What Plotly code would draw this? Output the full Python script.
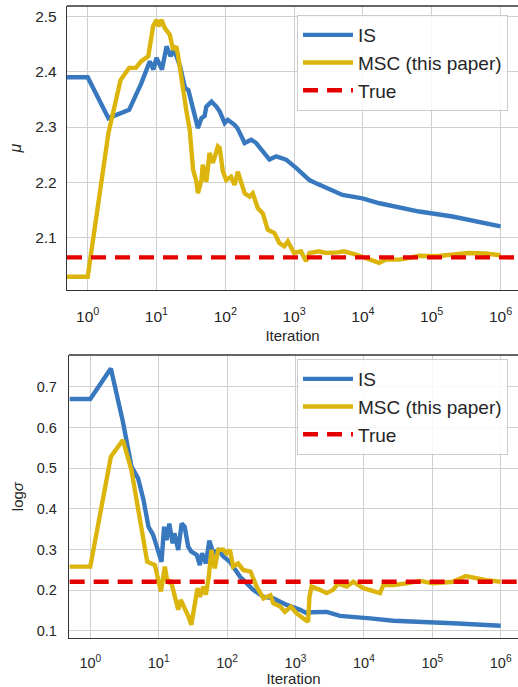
import plotly.graph_objects as go

# ---------------- data ----------------
mu_is_x = [0.5, 1, 2, 4, 6, 8, 9, 10, 12, 14, 16, 18, 22, 26, 29, 34, 40, 45, 50, 53, 63, 74,
           83, 98, 109, 136, 150, 191, 238, 281, 333, 438, 550, 765, 1067, 1670, 2090, 3640,
           5040, 7050, 9840, 17400, 37500, 65700, 200000, 610000, 1000000]
mu_is_y = [2.39, 2.39, 2.316, 2.331, 2.379, 2.419, 2.404, 2.425, 2.404, 2.446, 2.428, 2.44,
           2.41, 2.37, 2.367, 2.331, 2.298, 2.316, 2.32, 2.337, 2.346, 2.337, 2.328, 2.307,
           2.313, 2.304, 2.298, 2.271, 2.277, 2.271, 2.259, 2.241, 2.247, 2.241, 2.226, 2.204,
           2.198, 2.186, 2.177, 2.174, 2.171, 2.162, 2.153, 2.147, 2.138, 2.126, 2.12]

mu_msc_x = [0.5, 1, 2, 3, 4, 5, 6, 7.6, 8.9, 10, 10.7, 11.8, 13.2, 15.6, 17.4, 19.4, 20.5, 23,
            27, 30.4, 34, 38, 40, 45, 47, 53, 59, 66, 78, 83, 92, 103, 121, 136, 152, 191, 225,
            251, 297, 350, 414, 517, 610, 720, 810, 1000, 1260, 1490, 1670, 2300, 2900, 4300,
            5300, 7900, 11000, 13800, 17200, 21700, 33700, 47500, 65700, 116000, 200000,
            340000, 600000, 1000000]
mu_msc_y = [2.029, 2.029, 2.289, 2.385, 2.407, 2.407, 2.419, 2.428, 2.482, 2.494, 2.482, 2.494,
            2.479, 2.467, 2.44, 2.446, 2.431, 2.385, 2.331, 2.295, 2.223, 2.201, 2.18, 2.204,
            2.232, 2.201, 2.253, 2.235, 2.265, 2.262, 2.22, 2.204, 2.21, 2.195, 2.219, 2.18,
            2.174, 2.18, 2.153, 2.144, 2.114, 2.108, 2.09, 2.084, 2.093, 2.072, 2.075, 2.057,
            2.072, 2.075, 2.072, 2.073, 2.075, 2.069, 2.063, 2.057, 2.054, 2.060, 2.060, 2.063,
            2.067, 2.066, 2.069, 2.072, 2.071, 2.068]

mu_true = 2.064

ls_is_x = [0.5, 1, 2, 3, 4, 5, 6, 7.1, 8.3, 9.8, 11, 12, 13, 14.3, 16, 17, 19.3, 21.7, 24, 27,
           30, 36, 40, 43, 49, 55, 63, 74, 88, 110, 155, 241, 338, 476, 745, 1170, 1480, 1700,
           2860, 4480, 7000, 12300, 26800, 66000, 200000, 1000000]
ls_is_y = [0.670, 0.670, 0.745, 0.614, 0.504, 0.475, 0.422, 0.356, 0.336, 0.291, 0.270, 0.356,
           0.323, 0.364, 0.315, 0.34, 0.299, 0.364, 0.356, 0.307, 0.295, 0.287, 0.262, 0.291,
           0.266, 0.322, 0.291, 0.299, 0.283, 0.270, 0.233, 0.201, 0.184, 0.180, 0.164, 0.152,
           0.143, 0.146, 0.147, 0.137, 0.135, 0.131, 0.125, 0.123, 0.119, 0.113]

ls_msc_x = [0.5, 1, 2, 3, 4, 5, 6.8, 8.8, 9.9, 10.8, 12.3, 13.5, 15, 17.3, 19.3, 21, 24, 27.4,
            30, 34, 37, 40, 45, 49, 54, 59, 66, 74, 88, 98, 110, 123, 145, 172, 220, 270, 340,
            430, 475, 600, 700, 860, 1040, 1300, 1530, 1600, 1720, 2270, 2850, 3550, 4200,
            5600, 7000, 9800, 13800, 17200, 19300, 26700, 42000, 66000, 103000, 200000,
            310000, 430000, 610000, 1000000]
ls_msc_y = [0.258, 0.258, 0.528, 0.569, 0.495, 0.397, 0.270, 0.262, 0.225, 0.197, 0.258, 0.217,
            0.225, 0.184, 0.152, 0.176, 0.156, 0.135, 0.115, 0.180, 0.205, 0.184, 0.209, 0.189,
            0.233, 0.299, 0.254, 0.299, 0.300, 0.291, 0.299, 0.258, 0.266, 0.25, 0.246, 0.209,
            0.180, 0.188, 0.168, 0.160, 0.147, 0.160, 0.143, 0.131, 0.123, 0.184, 0.209, 0.201,
            0.193, 0.201, 0.217, 0.209, 0.221, 0.205, 0.197, 0.193, 0.213, 0.213, 0.217, 0.223,
            0.217, 0.221, 0.235, 0.229, 0.225, 0.221]

ls_true = 0.221

true_span_x = [0.5, 2000000]
names = ["IS", "MSC (this paper)", "True"]

x_tickvals = [1, 10, 100, 1000, 10000, 100000, 1000000]
x_ticktext = ["10<sup>0</sup>", "10<sup>1</sup>", "10<sup>2</sup>", "10<sup>3</sup>",
              "10<sup>4</sup>", "10<sup>5</sup>", "10<sup>6</sup>"]
mu_ticks = [2.1, 2.2, 2.3, 2.4, 2.5]
ls_ticks = [0.1, 0.2, 0.3, 0.4, 0.5, 0.6, 0.7]

# ---------------- style ----------------
BLUE = "#3778bf"
GOLD = "#dbb40c"
RED = "#e50000"
FONT = "Liberation Sans, Arial, sans-serif"
TXT = "#262626"
W, H = 518, 687

fig = go.Figure()


def add_panel(x_is, y_is, x_msc, y_msc, true_v, xa, ya, leg):
    fig.add_trace(go.Scatter(x=x_is, y=y_is, mode="lines", name=names[0],
                             line=dict(color=BLUE, width=4.4), xaxis=xa, yaxis=ya, legend=leg))
    fig.add_trace(go.Scatter(x=x_msc, y=y_msc, mode="lines", name=names[1],
                             line=dict(color=GOLD, width=4.4), xaxis=xa, yaxis=ya, legend=leg))
    fig.add_trace(go.Scatter(x=true_span_x, y=[true_v, true_v], mode="lines", name=names[2],
                             line=dict(color=RED, width=4.4, dash="15px,9px"),
                             xaxis=xa, yaxis=ya, legend=leg))


add_panel(mu_is_x, mu_is_y, mu_msc_x, mu_msc_y, mu_true, "x", "y", "legend")
add_panel(ls_is_x, ls_is_y, ls_msc_x, ls_msc_y, ls_true, "x2", "y2", "legend2")


def axis_style(size, standoff):
    return dict(showgrid=True, gridcolor="#d0d0d0", gridwidth=1, zeroline=False,
                showline=True, linecolor="#333333", linewidth=1.3, ticks="",
                ticklabelstandoff=standoff,
                tickfont=dict(size=size, color=TXT, family=FONT), automargin=False)


legend_common = dict(xanchor="left", yanchor="top",
                     bgcolor="rgba(255,255,255,0.85)", bordercolor="#cccccc", borderwidth=1,
                     font=dict(size=19, color=TXT, family=FONT), itemwidth=50)

fig.update_layout(
    width=W, height=H,
    margin=dict(l=0, r=0, t=0, b=0),
    paper_bgcolor="white", plot_bgcolor="white",
    font=dict(family=FONT, color=TXT),
    xaxis=dict(type="log", domain=[67 / W, 1], range=[-0.301, 6.254], anchor="y",
               tickvals=x_tickvals, ticktext=x_ticktext,
               title=dict(text="Iteration", font=dict(size=15), standoff=6),
               **axis_style(15.5, 12)),
    yaxis=dict(domain=[1 - 290 / H, 1 - 6 / H], range=[2.005, 2.519], anchor="x",
               tickvals=mu_ticks,
               title=dict(text="<i>μ</i>", font=dict(size=16), standoff=9),
               **axis_style(15.5, 6)),
    xaxis2=dict(type="log", domain=[69 / W, 1], range=[-0.311, 6.253], anchor="y2",
                tickvals=x_tickvals, ticktext=x_ticktext,
                title=dict(text="Iteration", font=dict(size=15), standoff=10),
                **axis_style(14.5, 11)),
    yaxis2=dict(domain=[1 - 638.3 / H, 1 - 355 / H], range=[0.082, 0.778], anchor="x2",
                tickvals=ls_ticks,
                title=dict(text="log<i>σ</i>", font=dict(size=15), standoff=9),
                **axis_style(14.5, 8)),
    legend=dict(x=297 / W, y=1 - 15 / H, **legend_common),
    legend2=dict(x=297 / W, y=1 - 359 / H, **legend_common),
    shapes=[
        dict(type="line", xref="x domain", yref="y domain", x0=0, x1=1, y0=1, y1=1,
             line=dict(color="#333333", width=1.3)),
        dict(type="line", xref="x2 domain", yref="y2 domain", x0=0, x1=1, y0=1, y1=1,
             line=dict(color="#333333", width=1.3)),
    ],
)

fig.write_html("out.html", config={"displayModeBar": False},
               post_script="document.body.style.margin='0';")
